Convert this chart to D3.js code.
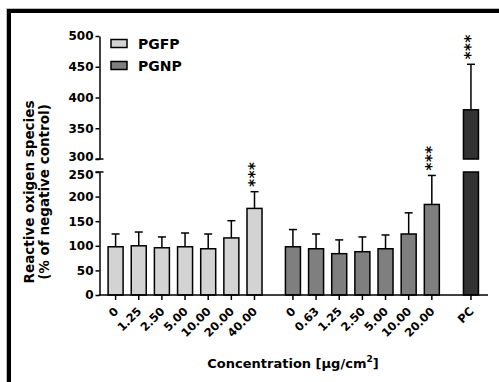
<!DOCTYPE html>
<html><head><meta charset="utf-8">
<script src="https://cdn.jsdelivr.net/npm/d3@7"></script>
<style>
html,body{margin:0;padding:0;background:#fff;}
svg{display:block;font-family:"DejaVu Sans",sans-serif;font-weight:bold;}
</style></head>
<body><svg id="c" width="499" height="382"></svg>
<script>
// ---- data ----
const pgfpLabels = ["0","1.25","2.50","5.00","10.00","20.00","40.00"];
const pgfpMean   = [98, 100, 96, 98, 94, 116, 176];
const pgfpSD     = [26, 28, 22, 28, 30, 35, 34];
const pgfpSig    = ["", "", "", "", "", "", "***"];

const pgnpLabels = ["0","0.63","1.25","2.50","5.00","10.00","20.00"];
const pgnpMean   = [98, 94, 84, 88, 94, 124, 184];
const pgnpSD     = [35, 30, 28, 30, 28, 43, 59];
const pgnpSig    = ["", "", "", "", "", "", "***"];

const pcLabels = ["PC"];
const pcMean   = [380];
const pcSD     = [74];
const pcSig    = ["***"];

const seriesNames = ["PGFP", "PGNP"];
const lowerTicks = [0, 50, 100, 150, 200, 250];
const upperTicks = [300, 350, 400, 450, 500];
const yTitle = ["Reactive oxigen species", "(% of negative control)"];
const xTitle = "Concentration [\u03bcg/cm";

// ---- layout ----
const FONT = "DejaVu Sans, sans-serif";
const svg = d3.select("#c");
const colors = {PGFP: "#d3d3d3", PGNP: "#7f7f7f", PC: "#333333"};
const groups = [
  {name: "PGFP", labels: pgfpLabels, mean: pgfpMean, sd: pgfpSD, sig: pgfpSig, offset: 0},
  {name: "PGNP", labels: pgnpLabels, mean: pgnpMean, sd: pgnpSD, sig: pgnpSig, offset: 7.66},
  {name: "PC",   labels: pcLabels,   mean: pcMean,   sd: pcSD,   sig: pcSig,   offset: 15.35}
];
const items = [];
groups.forEach(g => g.labels.forEach((l, i) => items.push({
  group: g.name, label: l, mean: g.mean[i], sd: g.sd[i], sig: g.sig[i], slot: g.offset + i
})));

const x = d3.scaleLinear().domain([0, 1]).range([115.6, 138.75]);
const yLo = d3.scaleLinear().domain([0, 250]).range([295, 172]);
const yHi = d3.scaleLinear().domain([300, 500]).range([159, 36]);
const yv = v => v <= 250 ? yLo(v) : (v >= 300 ? yHi(v) : null);
const axisX = 99.5;
const barW = 15;

// frame
svg.append("path").attr("d", "M9,400 V11 H520").attr("fill", "none")
  .attr("stroke", "#000").attr("stroke-width", 4);
svg.append("path").attr("d", "M6.5,400 V8.5 H520").attr("fill", "none")
  .attr("stroke", "#bbb").attr("stroke-width", 1);

// bars
const bars = svg.append("g");
items.forEach(d => {
  const cx = x(d.slot);
  if (d.mean <= 250) {
    bars.append("rect").attr("x", cx - barW / 2).attr("width", barW)
      .attr("y", yLo(d.mean)).attr("height", yLo(0) - yLo(d.mean))
      .attr("fill", colors[d.group]).attr("stroke", "#000").attr("stroke-width", 1.5);
  } else {
    bars.append("rect").attr("x", cx - barW / 2).attr("width", barW)
      .attr("y", yLo(250)).attr("height", yLo(0) - yLo(250))
      .attr("fill", colors[d.group]).attr("stroke", "#000").attr("stroke-width", 1.5);
    bars.append("rect").attr("x", cx - barW / 2).attr("width", barW)
      .attr("y", yHi(d.mean)).attr("height", yHi(300) - yHi(d.mean))
      .attr("fill", colors[d.group]).attr("stroke", "#000").attr("stroke-width", 1.5);
  }
  const top = d.mean + d.sd;
  const yTop = yv(top), yMean = yv(d.mean);
  bars.append("line").attr("x1", cx).attr("x2", cx).attr("y1", yMean).attr("y2", yTop)
    .attr("stroke", "#000").attr("stroke-width", 1.5);
  bars.append("line").attr("x1", cx - 4).attr("x2", cx + 4).attr("y1", yTop).attr("y2", yTop)
    .attr("stroke", "#000").attr("stroke-width", 1.5);
  if (d.sig) {
    const bx = cx + 5, by = yTop - 5;
    bars.append("text").attr("transform", `translate(${bx},${by}) rotate(-90)`)
      .attr("font-size", 15).attr("letter-spacing", 0.5).attr("text-anchor", "start").attr("fill", "#000")
      .text(d.sig);
  }
});

// y axes (broken)
const lo = svg.append("g").attr("transform", `translate(${axisX},0)`)
  .call(d3.axisLeft(yLo).tickValues(lowerTicks).tickSize(4).tickPadding(2).tickSizeOuter(0));
const hi = svg.append("g").attr("transform", `translate(${axisX},0)`)
  .call(d3.axisLeft(yHi).tickValues(upperTicks).tickSize(4).tickPadding(2).tickSizeOuter(0));
[lo, hi].forEach(a => {
  a.selectAll("path,line").attr("stroke", "#000").attr("stroke-width", 1.5);
  a.selectAll("text").attr("font-size", 12).attr("font-weight", "bold")
    .attr("font-family", FONT).attr("fill", "#000");
});
hi.selectAll(".tick").filter(d => d === 300).select("text").attr("dy", "0.1em");
lo.selectAll(".tick").filter(d => d === 250).select("text").attr("dy", "0.55em");
// break caps
svg.append("line").attr("x1", axisX - 4).attr("x2", axisX + 4).attr("y1", yHi(300)).attr("y2", yHi(300))
  .attr("stroke", "#000").attr("stroke-width", 1.5);
svg.append("line").attr("x1", axisX - 4).attr("x2", axisX + 4).attr("y1", yLo(250)).attr("y2", yLo(250))
  .attr("stroke", "#000").attr("stroke-width", 1.5);

// x axis
svg.append("line").attr("x1", axisX - 0.75).attr("x2", 488).attr("y1", yLo(0)).attr("y2", yLo(0))
  .attr("stroke", "#000").attr("stroke-width", 1.5);
const xt = svg.append("g");
items.forEach(d => {
  const cx = x(d.slot);
  xt.append("line").attr("x1", cx).attr("x2", cx).attr("y1", yLo(0)).attr("y2", yLo(0) + 5)
    .attr("stroke", "#000").attr("stroke-width", 1.5);
  xt.append("text").attr("transform", `translate(${cx + 3.5},${yLo(0) + 17}) rotate(-45)`)
    .attr("text-anchor", "end").attr("font-size", 11.5).attr("fill", "#000").text(d.label);
});

// axis titles
const yt = svg.append("text").attr("transform", "translate(34,192) rotate(-90)")
  .attr("text-anchor", "middle").attr("font-size", 13.5).attr("fill", "#000");
yt.append("tspan").attr("x", 0).attr("dy", 0).text(yTitle[0]);
yt.append("tspan").attr("x", 0).attr("dy", 15).text(yTitle[1]);

const xtt = svg.append("text").attr("x", 293).attr("y", 368).attr("text-anchor", "middle")
  .attr("font-size", 13).attr("fill", "#000");
xtt.append("tspan").text(xTitle);
xtt.append("tspan").attr("font-size", 9).attr("dy", -6).text("2");
xtt.append("tspan").attr("dy", 6).text("]");

// legend
const lg = svg.append("g");
seriesNames.forEach((n, i) => {
  lg.append("rect").attr("x", 111).attr("y", 39.5 + i * 22).attr("width", 16).attr("height", 8)
    .attr("fill", colors[n]).attr("stroke", "#000").attr("stroke-width", 1.5);
  lg.append("text").attr("x", 138).attr("y", 48.5 + i * 22).attr("font-size", 14)
    .attr("fill", "#000").text(n);
});
</script></body></html>
